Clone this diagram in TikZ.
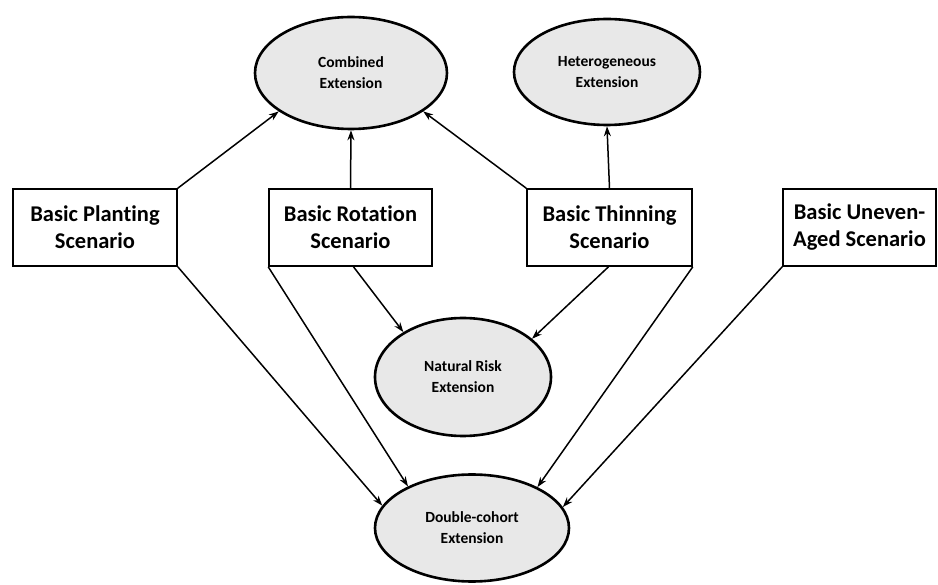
\documentclass[tikz,border=0pt]{standalone}
\usepackage{fontspec}
\setmainfont{Carlito}[Ligatures={NoCommon}]
\usetikzlibrary{shapes.geometric,arrows.meta}
\begin{document}
\begin{tikzpicture}[x=1pt,y=-1pt,
 box/.style={draw, line width=1.6pt, minimum height=77pt, align=center, font=\fontsize{22.5}{27}\selectfont\bfseries, inner sep=0pt},
 ext/.style={ellipse, draw, line width=2.6pt, fill=black!9, align=center, font=\fontsize{15.5}{21}\selectfont\bfseries, inner sep=0pt},
 conn/.style={-{Stealth[length=10pt,width=7pt]}, line width=1.5pt}]
\useasboundingbox (0,0) rectangle (938,585);
\node[ext, minimum width=192pt, minimum height=112pt] (comb) at (351,73) {Combined\\Extension};
\node[ext, minimum width=186pt, minimum height=106pt] (het) at (607,72) {Heterogeneous\\Extension};
\node[ext, minimum width=176pt, minimum height=118pt] (nat) at (463,377) {Natural Risk\\Extension};
\node[ext, minimum width=194pt, minimum height=107pt] (dbl) at (472,528) {Double-cohort\\Extension};
\node[box, minimum width=164pt] (plant) at (95,227.5) {Basic Planting\\Scenario};
\node[box, minimum width=163pt] (rot) at (350.5,227.5) {Basic Rotation\\Scenario};
\node[box, minimum width=165pt] (thin) at (609.5,227.5) {Basic Thinning\\Scenario};
\node[box, minimum width=153pt] (unev) at (859.5,227.5) {Basic Uneven-\\Aged Scenario};
\draw[conn] (plant.north east) -- (comb.208);
\draw[conn] (rot.north) -- (comb.south);
\draw[conn] (thin.north west) -- (comb.332);
\draw[conn] (thin.north) -- (het.south);
\draw[conn] ([xshift=3pt]rot.south) -- (nat.143);
\draw[conn] ([xshift=-1pt]thin.south) -- (nat.29);
\draw[conn] (plant.south east) -- (dbl.166);
\draw[conn] (rot.south west) -- (dbl.147);
\draw[conn] (thin.south east) -- (dbl.32);
\draw[conn] (unev.south west) -- (dbl.13);
\end{tikzpicture}
\end{document}
